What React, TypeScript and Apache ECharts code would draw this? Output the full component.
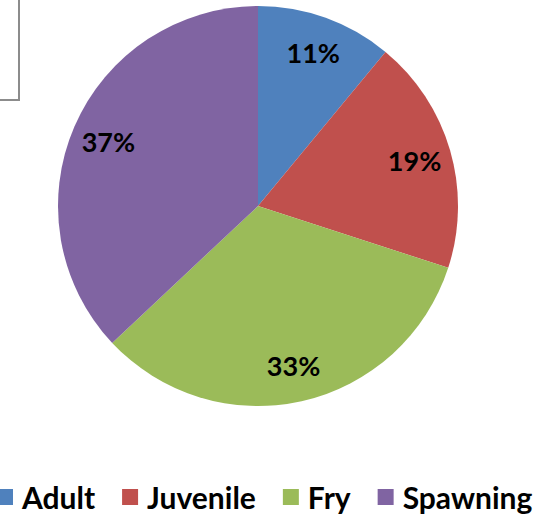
import React, { useEffect, useRef } from "react";
import * as echarts from "echarts";

const categories = ["Adult", "Juvenile", "Fry", "Spawning"];
const values = [11, 19, 33, 37];
const colors = ["#4F81BD", "#C0504D", "#9BBB59", "#8064A2"];

export default function App() {
  const ref = useRef<HTMLDivElement>(null);
  useEffect(() => {
    if (!ref.current) return;
    const chart = echarts.init(ref.current, null, { renderer: "svg" });
    const data = categories.map((name, i) => ({ name, value: values[i], itemStyle: { color: colors[i] } }));
    chart.setOption({
      animation: false,
      backgroundColor: "#ffffff",
      legend: {
        bottom: 2,
        left: -3,
        padding: 0,
        icon: "rect",
        itemWidth: 16,
        itemHeight: 16,
        itemGap: 27,
        textStyle: { fontFamily: "Lato", fontWeight: "bold", fontSize: 30, color: "#000", padding: [0, 0, 0, 4] },
        data: categories,
        selectedMode: false,
      },
      graphic: [
        {
          type: "rect",
          shape: { x: -10, y: -10, width: 29, height: 110 },
          style: { fill: "none", stroke: "#8c8c8c", lineWidth: 2 },
        },
      ],
      series: [
        {
          type: "pie",
          center: [258, 206],
          radius: [0, 200],
          startAngle: 90,
          clockwise: true,
          label: { show: false },
          labelLine: { show: false },
          itemStyle: { borderWidth: 0 },
          data,
          silent: true,
        },
        {
          type: "pie",
          center: [258, 206],
          radius: [120, 200],
          startAngle: 90,
          clockwise: true,
          label: {
            show: true,
            position: "inside",
            formatter: (p: any) => Math.round(p.percent) + "%",
            fontFamily: "Lato",
            fontWeight: "bold",
            fontSize: 27,
            color: "#000",
          },
          labelLine: { show: false },
          itemStyle: { color: "transparent", borderWidth: 0 },
          emphasis: { disabled: true },
          data: categories.map((name, i) => ({ name, value: values[i] })),
          silent: true,
          legendHoverLink: false,
        },
      ],
    });
    return () => chart.dispose();
  }, []);
  return <div ref={ref} style={{ position: "fixed", left: 0, top: 0, width: 549, height: 514 }} />;
}
